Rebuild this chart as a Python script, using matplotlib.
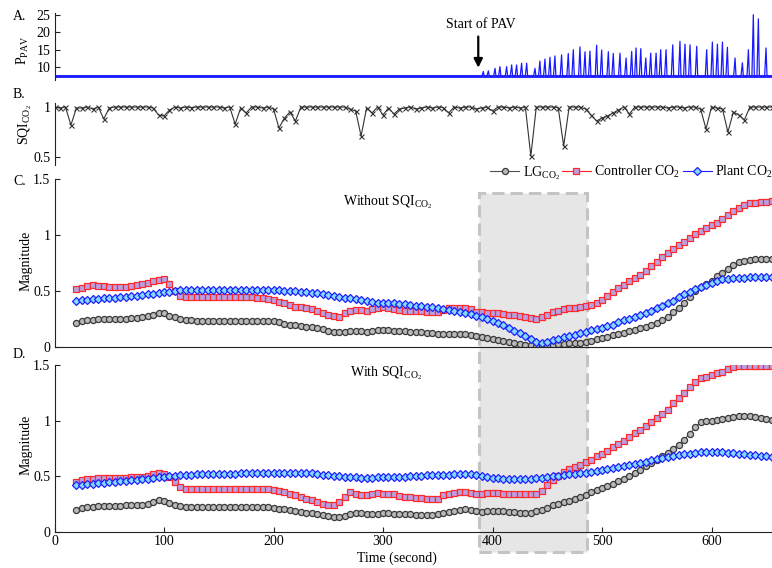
#!/usr/bin/env python3
"""
Four stacked panels: PAV pressure, SQI of CO2, and loop gain / controller /
plant magnitudes without and with the SQI weighting.
"""

import numpy as np
import matplotlib
matplotlib.use("Agg")
import matplotlib.pyplot as plt
import matplotlib.transforms as mtransforms
from matplotlib.patches import Rectangle

plt.rcParams["font.family"] = ["Liberation Serif", "DejaVu Serif"]
plt.rcParams["mathtext.fontset"] = "custom"
plt.rcParams["mathtext.rm"] = "Liberation Serif"
plt.rcParams["mathtext.it"] = "Liberation Serif:italic"
plt.rcParams["font.size"] = 10

# ------------------------------------------------------------
# Data
# ------------------------------------------------------------

# panel A: P_PAV trace, baseline plus breath spikes after PAV starts
PAV_BASELINE = 7.3
PAV_END = 660
PAV_SPIKE_T = [391.6, 396.2, 402.3, 406.8, 412.9, 417.5, 422.0, 426.6, 431.2, 438.8,
               443.3, 447.9, 452.5, 457.0, 463.1, 469.2, 473.8, 479.9, 484.5, 489.0,
               495.1, 499.7, 505.8, 510.3, 516.4, 522.0, 527.1, 531.1, 535.4, 540.0,
               544.5, 549.4, 553.6, 558.5, 564.6, 571.2, 575.8, 580.4, 586.5, 595.6,
               600.8, 605.4, 610.0, 614.5, 621.5, 628.2, 633.7, 638.2, 642.8, 649.8]
PAV_SPIKE_PEAK = [8.7, 8.9, 9.6, 10.1, 10.1, 10.6, 10.6, 11.1, 11.1, 9.6,
                  11.7, 12.3, 12.8, 13.2, 13.5, 13.9, 15.0, 15.8, 14.4, 14.6,
                  16.3, 14.9, 14.4, 13.9, 14.0, 12.6, 14.5, 15.5, 15.3, 12.6,
                  14.0, 14.0, 15.0, 15.0, 16.4, 17.4, 16.6, 16.4, 16.0, 15.0,
                  17.2, 16.6, 17.2, 15.7, 12.6, 11.2, 15.0, 25.1, 23.9, 15.5]

# panel B: SQI of CO2, one value every 5 s from t = 0
SQI_T0, SQI_DT = 0, 5
sqi_co2 = [1.0, .99, 1.0, .82, .99, .99, 1.0, .98, 1.0, .88,
           .99, 1.0, 1.0, 1.0, 1.0, 1.0, 1.0, 1.0, .99, .92,
           .91, .97, 1.0, .99, 1.0, .995, 1.0, 1.0, 1.0, 1.0,
           1.0, .99, 1.0, .83, .99, .94, 1.0, 1.0, .99, 1.0,
           .98, .79, .89, .95, .86, 1.0, 1.0, 1.0, 1.0, 1.0,
           1.0, 1.0, 1.0, 1.0, .98, .96, .71, .99, .94, 1.0,
           .92, .99, .93, .98, .99, 1.0, .98, .99, 1.0, .99,
           1.0, .995, .94, 1.0, .99, 1.0, 1.0, .98, .99, 1.0,
           .96, 1.0, 1.0, .99, 1.0, .99, 1.0, .51, 1.0, 1.0,
           1.0, 1.0, .995, .61, 1.0, 1.0, 1.0, .98, .92, .86,
           .89, .91, .94, .97, 1.0, .93, 1.0, 1.0, 1.0, 1.0,
           1.0, 1.0, .99, 1.0, 1.0, .99, 1.0, 1.0, .98, .78,
           1.0, .99, .98, .75, .95, .92, .87, 1.0, 1.0, 1.0,
           1.0, 1.0]

# panels C/D: one value every 5 s from t = 20
MAG_T0, MAG_DT = 20, 5

lg_without = [.217, .23, .24, .245, .247, .248, .25, .25, .25, .252,
              .255, .26, .27, .28, .29, .305, .30, .28, .265, .25,
              .24, .237, .235, .235, .235, .235, .235, .235, .235, .235,
              .235, .235, .235, .235, .233, .232, .23, .22, .205, .198,
              .193, .19, .182, .175, .168, .157, .145, .137, .13, .132,
              .14, .145, .142, .136, .14, .148, .15, .148, .146, .145,
              .143, .138, .133, .13, .127, .124, .12, .12, .12, .12,
              .12, .115, .108, .098, .09, .082, .072, .063, .052, .042,
              .033, .025, .018, .014, .012, .012, .015, .02, .025, .03,
              .034, .037, .04, .048, .058, .07, .08, .092, .104, .116,
              .127, .14, .153, .166, .183, .2, .218, .24, .27, .31,
              .35, .39, .45, .5, .535, .565, .59, .63, .665, .70,
              .73, .755, .77, .78, .785, .786, .788, .79]

ctrl_without = [.515, .53, .545, .553, .548, .545, .54, .533, .535, .54,
                .545, .553, .563, .575, .59, .60, .603, .56, .50, .455,
                .445, .443, .443, .443, .443, .443, .443, .443, .445, .445,
                .445, .443, .443, .44, .437, .433, .42, .40, .39, .375,
                .36, .355, .345, .335, .32, .305, .285, .275, .27, .30,
                .325, .33, .328, .324, .34, .35, .355, .345, .335, .33,
                .325, .322, .32, .318, .315, .312, .31, .33, .345, .348,
                .35, .35, .335, .315, .31, .308, .305, .30, .295, .29,
                .285, .28, .27, .255, .25, .27, .29, .31, .325, .335,
                .345, .35, .355, .365, .375, .395, .42, .455, .49, .525,
                .555, .585, .615, .645, .68, .72, .76, .80, .835, .875,
                .91, .94, .975, 1.005, 1.035, 1.065, 1.085, 1.11, 1.14, 1.175,
                1.21, 1.245, 1.27, 1.285, 1.29, 1.295, 1.298, 1.30]

plant_without = [.413, .418, .423, .428, .432, .435, .437, .44, .444, .448,
                 .452, .457, .463, .47, .477, .483, .49, .495, .50, .505,
                 .507, .508, .509, .509, .509, .509, .509, .509, .509, .509,
                 .509, .509, .509, .509, .509, .508, .507, .505, .503, .50,
                 .497, .493, .488, .483, .478, .47, .462, .455, .448, .441,
                 .435, .428, .418, .408, .40, .397, .395, .393, .39, .385,
                 .38, .375, .37, .365, .36, .353, .347, .34, .333, .325,
                 .316, .305, .292, .28, .268, .252, .235, .218, .195, .17,
                 .145, .122, .10, .07, .048, .033, .045, .06, .072, .085,
                 .098, .11, .122, .135, .148, .16, .173, .187, .20, .22,
                 .237, .253, .27, .286, .305, .325, .345, .368, .39, .415,
                 .447, .47, .495, .52, .538, .555, .57, .59, .603, .61,
                 .613, .617, .62, .622, .622, .622, .622, .622]

lg_with = [.198, .212, .222, .228, .233, .235, .236, .237, .238, .239,
           .24, .242, .246, .254, .268, .285, .28, .262, .245, .232,
           .228, .228, .228, .228, .228, .228, .228, .228, .228, .228,
           .228, .228, .228, .228, .228, .226, .22, .21, .203, .196,
           .19, .183, .175, .168, .16, .15, .14, .137, .138, .148,
           .165, .172, .167, .162, .163, .166, .168, .168, .166, .163,
           .16, .158, .156, .154, .153, .153, .16, .17, .18, .192,
           .20, .203, .196, .185, .183, .188, .192, .19, .185, .18,
           .177, .175, .174, .174, .185, .20, .22, .24, .253, .265,
           .28, .295, .312, .33, .355, .38, .395, .415, .435, .455,
           .48, .505, .53, .56, .59, .62, .65, .68, .71, .75,
           .785, .83, .88, .94, .985, .995, 1.0, 1.005, 1.015, 1.02,
           1.03, 1.04, 1.042, 1.038, 1.035, 1.025, 1.015, 1.005]

ctrl_with = [.452, .465, .475, .48, .482, .482, .482, .482, .485, .487,
             .49, .493, .497, .505, .518, .53, .525, .49, .445, .405,
             .39, .39, .39, .39, .39, .39, .39, .39, .39, .39,
             .39, .39, .39, .39, .387, .382, .375, .365, .355, .343,
             .33, .315, .30, .285, .27, .25, .242, .242, .265, .31,
             .36, .345, .335, .33, .338, .348, .345, .34, .338, .322,
             .315, .31, .305, .303, .30, .30, .30, .33, .34, .35,
             .358, .36, .352, .345, .345, .348, .35, .35, .345, .34,
             .338, .338, .338, .338, .345, .37, .42, .47, .505, .54,
             .565, .585, .60, .625, .65, .68, .705, .73, .76, .79,
             .82, .85, .885, .92, .955, .99, 1.02, 1.06, 1.10, 1.155,
             1.20, 1.25, 1.30, 1.35, 1.38, 1.395, 1.41, 1.425, 1.44, 1.46,
             1.485, 1.49, 1.494, 1.494, 1.492, 1.49, 1.49, 1.49]

plant_with = [.42, .423, .427, .43, .436, .44, .445, .45, .455, .46,
              .465, .47, .475, .48, .485, .49, .495, .50, .505, .51,
              .513, .515, .517, .519, .52, .521, .522, .523, .524, .525,
              .527, .528, .53, .531, .532, .533, .533, .533, .533, .533,
              .533, .533, .53, .527, .522, .515, .508, .503, .50, .497,
              .494, .49, .489, .488, .489, .49, .491, .492, .493, .495,
              .498, .502, .505, .507, .509, .511, .512, .513, .515, .518,
              .52, .521, .52, .515, .505, .495, .488, .482, .478, .475,
              .473, .474, .477, .48, .484, .489, .494, .50, .506, .512,
              .518, .522, .527, .534, .542, .55, .558, .565, .572, .58,
              .59, .60, .61, .62, .632, .645, .656, .666, .676, .686,
              .692, .698, .705, .712, .718, .722, .722, .72, .717, .714,
              .712, .705, .698, .692, .688, .683, .68, .677]

# PAV window highlighted across panels C and D (seconds)
PAV_WINDOW = (388, 486)

# ------------------------------------------------------------
# Styling
# ------------------------------------------------------------

W, H = 772, 568
X0_PX, PX_PER_S = 54.5, 1.095
XMAX = 700

SERIES_STYLE = {
    "lg": dict(color="#505050", marker="o", ms=4.4, mfc="#b9b9b9", mec="#3a3a3a"),
    "ctrl": dict(color="#ff2020", marker="s", ms=3.9, mfc="#b8a0e4", mec="#ff2a2a"),
    "plant": dict(color="#1f1fff", marker="D", ms=3.6, mfc="#84d8fa", mec="#1f1fff"),
}
LABELS = {
    "lg": r"LG$_{\mathrm{CO}_2}$",
    "ctrl": r"Controller CO$_2$",
    "plant": r"Plant CO$_2$",
}


def fig_axes(fig, top_px, bottom_px):
    left = X0_PX / W
    width = XMAX * PX_PER_S / W
    ax = fig.add_axes([left, 1 - bottom_px / H, width, (bottom_px - top_px) / H])
    ax.set_facecolor("none")
    ax.set_xlim(0, XMAX)
    for side in ("top", "right"):
        ax.spines[side].set_visible(False)
    for sp in ax.spines.values():
        sp.set_linewidth(0.8)
        sp.set_color("#222222")
    ax.tick_params(direction="in", length=3.5, width=0.8, labelsize=10, pad=3,
                   color="#222222")
    return ax


def plot_magnitudes(ax, lg, ctrl, plant):
    t = MAG_T0 + MAG_DT * np.arange(len(lg))
    for key, vals in (("lg", lg), ("ctrl", ctrl), ("plant", plant)):
        st = SERIES_STYLE[key]
        ax.plot(t, vals, lw=0.8, mew=0.9, label=LABELS[key], **st)
    ax.set_ylim(0, 1.5)
    ax.set_yticks([0, 0.5, 1, 1.5])
    ax.set_yticklabels(["0", "0.5", "1", "1.5"])


# ------------------------------------------------------------
# Figure
# ------------------------------------------------------------

fig = plt.figure(figsize=(W / 100, H / 100), dpi=100)

# A: P_PAV
ax_a = fig_axes(fig, 13, 80)
xs, ys = [0.0], [PAV_BASELINE]
for ts, pk in zip(PAV_SPIKE_T, PAV_SPIKE_PEAK):
    xs += [ts - 1.3, ts, ts + 0.9]
    ys += [PAV_BASELINE, pk, PAV_BASELINE]
xs.append(PAV_END)
ys.append(PAV_BASELINE)
ax_a.plot([0, PAV_END], [PAV_BASELINE, PAV_BASELINE], color="#3030ff", lw=2.2)
ax_a.plot(xs, ys, color="#1a1aff", lw=0.9)
ax_a.set_ylim(6.25, 25.6)
ax_a.set_yticks([10, 15, 20, 25])
ax_a.spines["bottom"].set_visible(False)
ax_a.tick_params(axis="x", bottom=False, labelbottom=False)
ax_a.annotate("", xy=(387, 9.0), xytext=(387, 19.6),
              arrowprops=dict(arrowstyle="-|>", color="k", lw=1.6, mutation_scale=13))
ax_a.text(389, 22.4, "Start of PAV", ha="center", va="center", fontsize=10)

# B: SQI
ax_b = fig_axes(fig, 103, 165)
t_sqi = SQI_T0 + SQI_DT * np.arange(len(sqi_co2))
ax_b.plot(t_sqi, sqi_co2, color="#333333", lw=0.8, marker="x", ms=3.6, mew=0.8)
ax_b.set_ylim(0.42, 1.04)
ax_b.set_yticks([0.5, 1])
ax_b.set_yticklabels(["0.5", "1"])
ax_b.spines["bottom"].set_visible(False)
ax_b.tick_params(axis="x", bottom=False, labelbottom=False)

# C: without SQI
ax_c = fig_axes(fig, 179, 347)
plot_magnitudes(ax_c, lg_without, ctrl_without, plant_without)
ax_c.tick_params(axis="x", bottom=False, labelbottom=False)
ax_c.text((343 - X0_PX) / PX_PER_S, 1.29, r"Without SQI$_{\mathrm{CO}_2}$",
          ha="left", va="center", fontsize=10)

# D: with SQI
ax_d = fig_axes(fig, 365, 532)
plot_magnitudes(ax_d, lg_with, ctrl_with, plant_with)
ax_d.set_xticks([0, 100, 200, 300, 400, 500, 600])
ax_d.tick_params(axis="x", pad=2)
ax_d.text((350 - X0_PX) / PX_PER_S, 1.43, r"With SQI$_{\mathrm{CO}_2}$",
          ha="left", va="center", fontsize=10)

# PAV window box spanning C and D, behind the data
trans = mtransforms.blended_transform_factory(ax_d.transData, fig.transFigure)
y_lo, y_hi = 1 - 552 / H, 1 - 193 / H
box = Rectangle((PAV_WINDOW[0], y_lo), PAV_WINDOW[1] - PAV_WINDOW[0], y_hi - y_lo,
                transform=trans, facecolor="#e6e6e6", edgecolor="#c4c4c4",
                lw=2.2, linestyle=(0, (4, 2)), zorder=-1)
fig.add_artist(box)

# legend above panel C
handles, labels = ax_c.get_legend_handles_labels()
fig.legend(handles, labels, loc="center left", ncol=3, frameon=False,
           bbox_to_anchor=(490 / W, 1 - 173 / H), borderpad=0, borderaxespad=0,
           handlelength=2.1, handletextpad=0.25, columnspacing=0.15, fontsize=10)

# panel letters and y labels
for letter, ypx in (("A.", 17), ("B.", 95), ("C.", 181), ("D.", 354)):
    fig.text(13 / W, 1 - ypx / H, letter, ha="left", va="center", fontsize=10)

fig.text(23 / W, 1 - 50 / H, r"P$_{\mathrm{PAV}}$", rotation=90, ha="center", va="center")
fig.text(25 / W, 1 - 125 / H, r"SQI$_{\mathrm{CO}_2}$", rotation=90, ha="center", va="center")
fig.text(26 / W, 1 - 261 / H, "Magnitude", rotation=90, ha="center", va="center")
fig.text(26 / W, 1 - 445 / H, "Magnitude", rotation=90, ha="center", va="center")
fig.text(397 / W, 1 - 558 / H, "Time (second)", ha="center", va="center")

fig.savefig("out.png", dpi=100)
